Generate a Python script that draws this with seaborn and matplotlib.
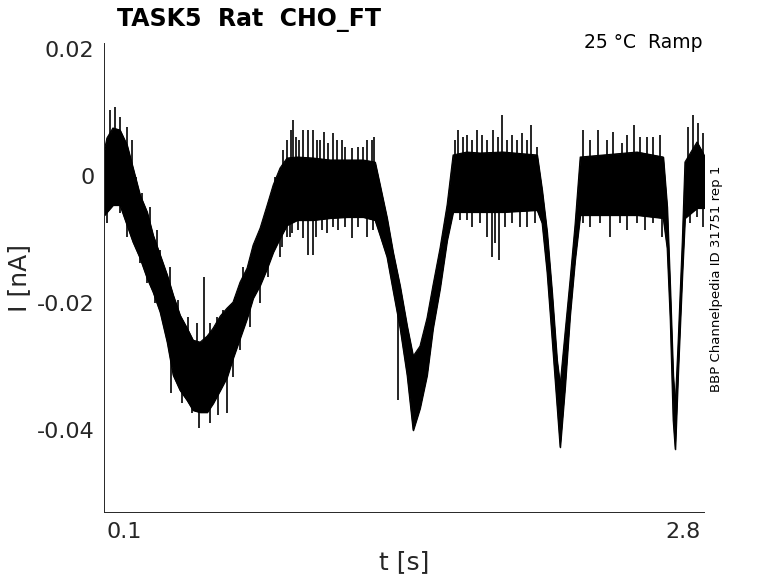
import numpy as np
import pandas as pd
import matplotlib
matplotlib.use("Agg")
import matplotlib.pyplot as plt
import seaborn as sns

# ---- data: dense core of the noisy current trace ----
t_s = [0.004, 0.016, 0.045, 0.079, 0.113, 0.142, 0.176, 0.210, 0.239, 0.273,
       0.307, 0.336, 0.369, 0.403, 0.432, 0.466, 0.500, 0.529, 0.563, 0.596,
       0.625, 0.659, 0.693, 0.722, 0.756, 0.790, 0.819, 0.852, 0.886, 0.935,
       1.012, 1.094, 1.176, 1.253, 1.311, 1.335, 1.369, 1.398, 1.432, 1.466,
       1.495, 1.528, 1.562, 1.591, 1.625, 1.659, 1.688, 1.755, 1.818, 1.929,
       2.094, 2.118, 2.142, 2.166, 2.190, 2.205, 2.229, 2.253, 2.277, 2.302,
       2.413, 2.577, 2.703, 2.722, 2.737, 2.751, 2.761, 2.775, 2.795, 2.808,
       2.866, 2.900]
i_upper = [0.00411, 0.00600, 0.00758, 0.00726, 0.00490, 0.00126, -0.00300, -0.00568, -0.00932, -0.01247,
           -0.01563, -0.01879, -0.02195, -0.02400, -0.02590, -0.02621, -0.02526, -0.02400, -0.02211, -0.02084,
           -0.01990, -0.01674, -0.01453, -0.01090, -0.00821, -0.00458, -0.00142, 0.00126, 0.00284, 0.00300,
           0.00284, 0.00253, 0.00253, 0.00253, 0.00221, -0.00142, -0.00663, -0.01200, -0.01737, -0.02369,
           -0.02842, -0.02684, -0.02242, -0.01721, -0.01137, -0.00458, 0.00332, 0.00379, 0.00363, 0.00379,
           0.00332, -0.00221, -0.00884, -0.01832, -0.02905, -0.03300, -0.02463, -0.01642, -0.00774, 0.00300,
           0.00332, 0.00379, 0.00300, -0.00489, -0.01800, -0.03142, -0.03616, -0.02621, -0.01042, 0.00221,
           0.00537, 0.00332]
i_lower = [-0.00616, -0.00568, -0.00458, -0.00458, -0.00774, -0.01042, -0.01295, -0.01611, -0.01832, -0.02147,
           -0.02621, -0.03142, -0.03379, -0.03537, -0.03695, -0.03727, -0.03727, -0.03584, -0.03379, -0.03174,
           -0.02874, -0.02558, -0.02242, -0.01926, -0.01721, -0.01453, -0.01200, -0.00979, -0.00774, -0.00695,
           -0.00695, -0.00663, -0.00647, -0.00647, -0.00695, -0.00932, -0.01279, -0.01800, -0.02400, -0.03142,
           -0.04011, -0.03663, -0.03142, -0.02400, -0.01769, -0.01011, -0.00568, -0.00568, -0.00568, -0.00568,
           -0.00537, -0.00742, -0.01516, -0.02558, -0.03616, -0.04279, -0.03316, -0.02195, -0.01326, -0.00616,
           -0.00616, -0.00616, -0.00663, -0.01137, -0.02274, -0.03853, -0.04311, -0.03095, -0.01563, -0.00663,
           -0.00505, -0.00505]

# noise spikes sticking out of the core (time, tip value)
spike_up_t = [0.031, 0.055, 0.079, 0.113, 0.137, 0.157, 0.186, 0.224, 0.258, 0.272,
              0.321, 0.359, 0.408, 0.451, 0.485, 0.514, 0.548, 0.577, 0.635, 0.673,
              0.722, 0.770, 0.804, 0.828, 0.867, 0.886, 0.905, 0.915, 0.929, 0.944,
              0.963, 0.988, 1.012, 1.031, 1.045, 1.065, 1.084, 1.108, 1.127, 1.152,
              1.166, 1.200, 1.229, 1.253, 1.272, 1.297, 1.306, 1.698, 1.712, 1.736,
              1.756, 1.780, 1.804, 1.828, 1.852, 1.881, 1.905, 1.925, 1.949, 1.973,
              1.997, 2.021, 2.045, 2.065, 2.094, 2.316, 2.350, 2.389, 2.432, 2.461,
              2.504, 2.529, 2.562, 2.591, 2.625, 2.654, 2.688, 2.823, 2.847, 2.871,
              2.896]
spike_up_v = [0.01042, 0.01090, 0.00932, 0.00774, 0.00568, -0.00016, -0.00268, -0.00489, -0.00853, -0.01168,
              -0.01437, -0.01958, -0.02226, -0.02321, -0.01595, -0.02321, -0.02226, -0.02116, -0.01911, -0.01437,
              -0.01216, -0.00805, -0.00426, -0.00016, 0.00411, 0.00568, 0.00726, 0.00884, 0.00616, 0.00568,
              0.00726, 0.00726, 0.00726, 0.00568, 0.00568, 0.00695, 0.00521, 0.00679, 0.00568, 0.00568,
              0.00458, 0.00442, 0.00458, 0.00458, 0.00568, 0.00568, 0.00616, 0.00568, 0.00726, 0.00616,
              0.00647, 0.00568, 0.00726, 0.00647, 0.00568, 0.00726, 0.00616, 0.00963, 0.00568, 0.00647,
              0.00568, 0.00679, 0.00568, 0.00805, 0.00458, 0.00726, 0.00568, 0.00726, 0.00568, 0.00695,
              0.00521, 0.00647, 0.00805, 0.00616, 0.00616, 0.00616, 0.00647, 0.00774, 0.00963, 0.00837,
              0.00679]
spike_dn_t = [0.016, 0.079, 0.113, 0.176, 0.210, 0.248, 0.287, 0.326, 0.379, 0.427,
              0.461, 0.514, 0.553, 0.596, 0.625, 0.659, 0.708, 0.756, 0.795, 0.853,
              0.862, 0.886, 0.901, 0.910, 0.939, 0.963, 0.988, 1.012, 1.026, 1.055,
              1.079, 1.108, 1.132, 1.166, 1.200, 1.229, 1.272, 1.301, 1.422, 1.722,
              1.756, 1.780, 1.818, 1.852, 1.876, 1.891, 1.910, 1.939, 1.973, 2.011,
              2.045, 2.084, 2.316, 2.350, 2.399, 2.447, 2.495, 2.529, 2.577, 2.616,
              2.654, 2.698, 2.833, 2.867, 2.896]
spike_dn_v = [-0.00742, -0.00584, -0.00963, -0.01374, -0.01690, -0.02005, -0.02321, -0.03426, -0.03584, -0.03742,
              -0.03979, -0.03900, -0.03774, -0.03742, -0.03174, -0.02748, -0.02384, -0.02005, -0.01595, -0.01279,
              -0.01121, -0.00963, -0.00963, -0.00900, -0.00853, -0.00979, -0.01247, -0.01247, -0.00963, -0.00853,
              -0.00900, -0.00805, -0.00853, -0.00805, -0.00979, -0.00805, -0.00963, -0.00853, -0.03537, -0.00695,
              -0.00695, -0.00805, -0.00742, -0.00963, -0.01279, -0.01058, -0.01326, -0.00805, -0.00742, -0.00805,
              -0.00805, -0.00742, -0.00742, -0.00805, -0.00742, -0.00963, -0.00742, -0.00853, -0.00742, -0.00853,
              -0.00742, -0.00963, -0.00742, -0.00647, -0.00805]

y_ticks = [-0.04, -0.02, 0, 0.02]
y_tick_labels = ["-0.04", "-0.02", "0", "0.02"]
x_ticks = [0.1, 2.8]
x_tick_labels = ["0.1", "2.8"]

title_text = "TASK5  Rat  CHO_FT"
cond_text = "25 °C  Ramp"
side_text = "BBP Channelpedia ID 31751 rep 1"

# ---- plotting ----
sns.set_style("white")
plt.rcParams["font.family"] = ["DejaVu Sans"]

fig = plt.figure(figsize=(7.78, 5.83), dpi=100)
ax = fig.add_axes([104.3 / 778, 1 - 512.3 / 583, (704.3 - 104.3) / 778, (512.3 - 43) / 583])

df = pd.DataFrame({"t": t_s, "upper": i_upper, "lower": i_lower})
df["mid"] = (df["upper"] + df["lower"]) / 2

ax.fill_between(df["t"], df["lower"], df["upper"], color="black", linewidth=0.8, edgecolor="black")
sns.lineplot(data=df, x="t", y="upper", ax=ax, color="black", linewidth=0.8, estimator=None)
sns.lineplot(data=df, x="t", y="lower", ax=ax, color="black", linewidth=0.8, estimator=None)

base_up = np.interp(spike_up_t, df["t"], df["mid"])
base_dn = np.interp(spike_dn_t, df["t"], df["mid"])
ax.vlines(spike_up_t, base_up, spike_up_v, color="black", linewidth=1.2)
ax.vlines(spike_dn_t, spike_dn_v, base_dn, color="black", linewidth=1.2)

ax.set_xlim(0.0034, 2.9015)
ax.set_ylim(-0.05305, 0.02099)

ax.set_xticks(x_ticks)
ax.set_xticklabels(x_tick_labels)
ax.set_yticks(y_ticks)
ax.set_yticklabels(y_tick_labels)
ax.tick_params(direction="in", length=5, width=0.6, colors="#262626", labelsize=16, pad=7)

for side in ["top", "right"]:
    ax.spines[side].set_visible(False)
for side in ["left", "bottom"]:
    ax.spines[side].set_color("#262626")
    ax.spines[side].set_linewidth(0.7)

ax.set_xlabel("t [s]", fontsize=18, color="#262626", labelpad=6)
ax.set_ylabel("I [nA]", fontsize=18, color="#262626", labelpad=4)

fig.text(117 / 778, 1 - 26 / 583, title_text, fontsize=17, fontweight="bold",
         ha="left", va="baseline", color="black")
fig.text(703 / 778, 1 - 48 / 583, cond_text, fontsize=13.5, ha="right", va="baseline", color="black")
fig.text(716.5 / 778, 1 - 278.5 / 583, side_text, fontsize=9.5, rotation=90,
         ha="center", va="center", color="black")

fig.savefig("out.png", dpi=100)
